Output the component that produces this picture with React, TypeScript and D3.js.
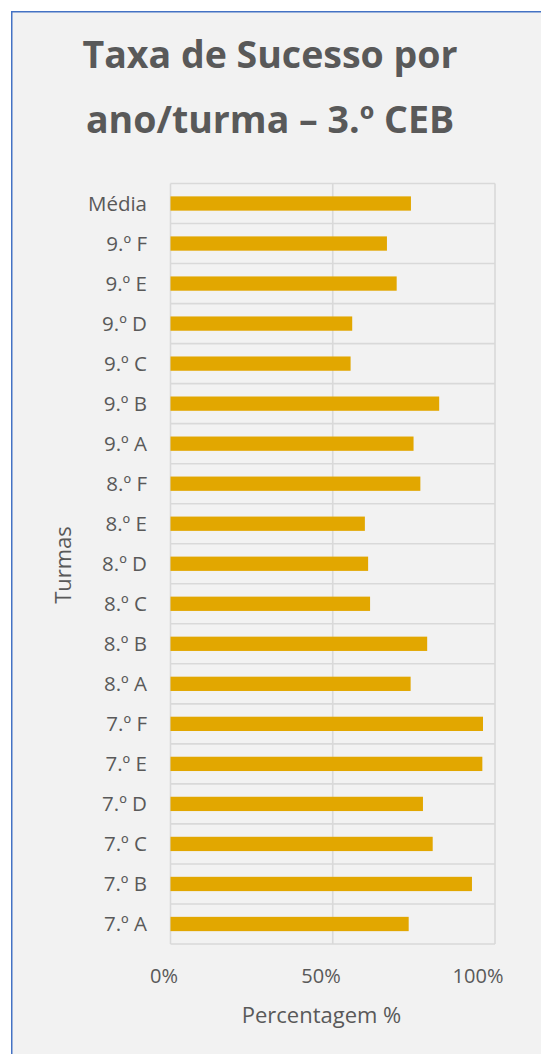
import React from "react";
import * as d3 from "d3";

const categories = [
  "Média", "9.º F", "9.º E", "9.º D", "9.º C", "9.º B", "9.º A",
  "8.º F", "8.º E", "8.º D", "8.º C", "8.º B", "8.º A",
  "7.º F", "7.º E", "7.º D", "7.º C", "7.º B", "7.º A",
];
const values = [
  0.741, 0.667, 0.697, 0.560, 0.555, 0.828, 0.749,
  0.770, 0.599, 0.609, 0.615, 0.791, 0.740,
  0.963, 0.961, 0.778, 0.808, 0.929, 0.734,
];
const tickValues = [0, 0.5, 1];
const tickLabels = ["0%", "50%", "100%"];
const titleLines = ["Taxa de Sucesso por", "ano/turma – 3.º CEB"];
const xTitle = "Percentagem %";
const yTitle = "Turmas";

const W = 541;
const H = 1054;
const FONT = "'Open Sans', sans-serif";
const TXT = "#595959";
const GRID = "#d9d9d9";

export default function App() {
  const x = d3.scaleLinear().domain([0, 1]).range([170.5, 495]);
  const labelX = d3.scaleLinear().domain([0, 1]).range([164, 478]);
  const p = 0.643;
  const y = d3
    .scaleBand<string>()
    .domain(categories)
    .range([183.5, 944])
    .paddingInner(p)
    .paddingOuter(p / 2);
  const step = y.step();
  const bounds = categories.map((c) => (y(c) as number) - (step * p) / 2);
  bounds.push(944);

  return (
    <svg
      width={W}
      height={H}
      style={{ position: "absolute", left: 0, top: 0, display: "block" }}
      fontFamily={FONT}
    >
      <rect x={0} y={0} width={W} height={H} fill="#ffffff" />
      <rect
        x={11.75}
        y={11.75}
        width={W + 40}
        height={H + 40}
        fill="#f2f2f2"
        stroke="#4472C4"
        strokeWidth={1.5}
      />
      {titleLines.map((t, i) => (
        <text
          key={i}
          x={270}
          y={68 + i * 65}
          textAnchor="middle"
          fontSize={37.5}
          fontWeight="bold"
          fill={TXT}
        >
          {t}
        </text>
      ))}
      {bounds.map((b, i) => (
        <line key={"h" + i} x1={x(0)} x2={x(1)} y1={b} y2={b} stroke={GRID} strokeWidth={1.6} />
      ))}
      {tickValues.map((v, i) => (
        <line key={"v" + i} x1={x(v)} x2={x(v)} y1={183.5} y2={944} stroke={GRID} strokeWidth={1.6} />
      ))}
      {categories.map((c, i) => (
        <rect
          key={"b" + i}
          x={x(0)}
          y={y(c)}
          width={x(values[i]) - x(0)}
          height={y.bandwidth()}
          fill="#E2A700"
        />
      ))}
      {categories.map((c, i) => (
        <text
          key={"c" + i}
          x={147}
          y={(y(c) as number) + y.bandwidth() / 2}
          dy="0.36em"
          textAnchor="end"
          fontSize={20.5}
          fill={TXT}
        >
          {c}
        </text>
      ))}
      {tickValues.map((v, i) => (
        <text key={"t" + i} x={labelX(v)} y={983} textAnchor="middle" fontSize={20} fill={TXT}>
          {tickLabels[i]}
        </text>
      ))}
      <text x={321.5} y={1023} textAnchor="middle" fontSize={22} fill={TXT}>
        {xTitle}
      </text>
      <text
        transform={`translate(71,565) rotate(-90)`}
        textAnchor="middle"
        fontSize={22}
        fill={TXT}
      >
        {yTitle}
      </text>
    </svg>
  );
}
